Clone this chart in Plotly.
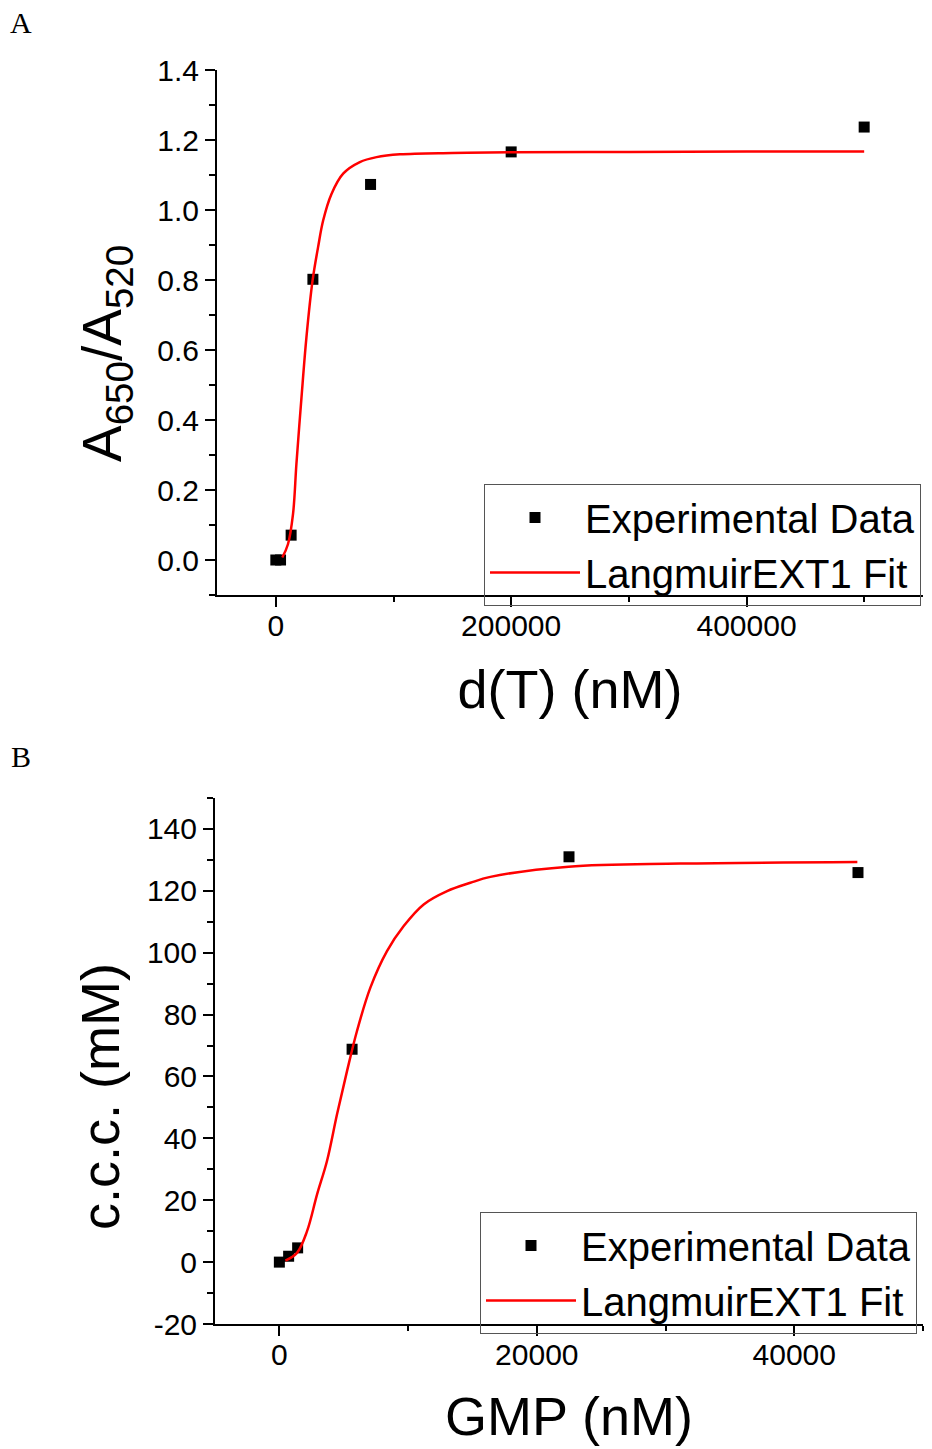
import plotly.graph_objects as go

# ---------- Panel A data ----------
a_x = [0, 4000, 13000, 31500, 80500, 200000, 500000]
a_y = [0.0, 0.0, 0.071, 0.802, 1.073, 1.166, 1.237]

a_fit_x = [5500, 10300, 14600, 17500, 21800, 26000, 31200, 35900, 40200, 47300,
           57200, 71400, 85600, 105500, 150000, 200000, 300000, 400000, 500000]
a_fit_y = [0.007, 0.045, 0.131, 0.275, 0.464, 0.636, 0.798, 0.894, 0.970, 1.046,
           1.104, 1.137, 1.151, 1.159, 1.163, 1.165, 1.166, 1.167, 1.167]

a_xtickvals = [0, 200000, 400000]
a_xticktext = ["0", "200000", "400000"]
a_ytickvals = [0.0, 0.2, 0.4, 0.6, 0.8, 1.0, 1.2, 1.4]
a_yticktext = ["0.0", "0.2", "0.4", "0.6", "0.8", "1.0", "1.2", "1.4"]

# ---------- Panel B data ----------
b_x = [0, 720, 1420, 5650, 22500, 44950]
b_y = [0.0, 1.9, 4.6, 68.8, 131.0, 125.9]

b_fit_x = [470, 1370, 2150, 2930, 3700, 4480, 5260, 6030, 7070, 8360, 9660,
           11210, 13030, 14840, 16390, 22470, 31150, 44900]
b_fit_y = [0.5, 3.0, 10.0, 21.9, 32.7, 47.8, 61.8, 74.7, 88.7, 100.5, 108.6,
           115.6, 119.9, 122.6, 124.5, 127.8, 128.8, 129.3]

b_xtickvals = [0, 20000, 40000]
b_xticktext = ["0", "20000", "40000"]
b_ytickvals = [-20, 0, 20, 40, 60, 80, 100, 120, 140]
b_yticktext = ["-20", "0", "20", "40", "60", "80", "100", "120", "140"]

W, H = 932, 1449
FONT = "Liberation Sans, Arial, sans-serif"
SERIF = "Liberation Serif, Times New Roman, serif"


def px_x(p):
    return p / W


def px_y(p):
    return 1 - p / H


fig = go.Figure()

# Panel A traces
fig.add_trace(go.Scatter(x=a_x, y=a_y, mode="markers", name="Experimental Data",
                         marker=dict(symbol="square", size=11, color="black"),
                         xaxis="x", yaxis="y", legend="legend"))
fig.add_trace(go.Scatter(x=a_fit_x, y=a_fit_y, mode="lines", name="LangmuirEXT1 Fit",
                         line=dict(color="#ff0000", width=2.5, shape="spline", smoothing=1.0),
                         xaxis="x", yaxis="y", legend="legend"))
# Panel B traces
fig.add_trace(go.Scatter(x=b_x, y=b_y, mode="markers", name="Experimental Data",
                         marker=dict(symbol="square", size=11, color="black"),
                         xaxis="x2", yaxis="y2", legend="legend2"))
fig.add_trace(go.Scatter(x=b_fit_x, y=b_fit_y, mode="lines", name="LangmuirEXT1 Fit",
                         line=dict(color="#ff0000", width=2.5, shape="spline", smoothing=1.0),
                         xaxis="x2", yaxis="y2", legend="legend2"))

axis_common = dict(showline=True, linecolor="black", linewidth=2, ticks="outside",
                   ticklen=10, tickwidth=2, tickcolor="black", showgrid=False,
                   zeroline=False, mirror=False, automargin=False,
                   tickfont=dict(family=FONT, size=30, color="black"))

xtitle_font = dict(family=FONT, size=54, color="black")


def minor(dt, ln):
    return dict(dtick=dt, tick0=0, ticks="outside", ticklen=ln, tickwidth=2,
                tickcolor="black", showgrid=False)


legend_common = dict(xanchor="left", yanchor="top",
                     bgcolor="rgba(255,255,255,0)", bordercolor="#555555", borderwidth=1,
                     font=dict(family=FONT, size=40, color="black"), itemwidth=90,
                     tracegroupgap=0)

fig.update_layout(
    width=W, height=H,
    margin=dict(l=0, r=0, t=0, b=0, autoexpand=False),
    paper_bgcolor="white", plot_bgcolor="white",
    font=dict(family=FONT, color="black"),
    xaxis=dict(domain=[px_x(217), px_x(923)], range=[-50000, 550000], anchor="y",
               tickmode="array", tickvals=a_xtickvals, ticktext=a_xticktext,
               ticklabelstandoff=-7, minor=minor(100000, 5),
               title=dict(text="d(T) (nM)", font=xtitle_font, standoff=29),
               **axis_common),
    yaxis=dict(domain=[px_y(595), px_y(70)], range=[-0.1, 1.4], anchor="x",
               tickmode="array", tickvals=a_ytickvals, ticktext=a_yticktext,
               minor=minor(0.1, 6), **axis_common),
    xaxis2=dict(domain=[px_x(215), px_x(923)], range=[-5000, 50000], anchor="y2",
                tickmode="array", tickvals=b_xtickvals, ticktext=b_xticktext,
                ticklabelstandoff=-7, minor=minor(10000, 5),
                title=dict(text="GMP (nM)", font=xtitle_font, standoff=27),
                **axis_common),
    yaxis2=dict(domain=[px_y(1324), px_y(798)], range=[-20, 150], anchor="x2",
                tickmode="array", tickvals=b_ytickvals, ticktext=b_yticktext,
                minor=minor(10, 6), **axis_common),
    legend=dict(x=px_x(484), y=px_y(484), **legend_common),
    legend2=dict(x=px_x(480), y=px_y(1212), **legend_common),
    showlegend=True,
)

annotations = [
    dict(text="A", x=px_x(21), y=px_y(22), font=dict(family=SERIF, size=30)),
    dict(text="B", x=px_x(21), y=px_y(756), font=dict(family=SERIF, size=30)),
    dict(text="A<sub>650</sub>/A<sub>520</sub>", x=px_x(106), y=px_y(354), textangle=-90,
         font=dict(family=FONT, size=55)),
    dict(text="c.c.c. (mM)", x=px_x(100), y=px_y(1097), textangle=-90,
         font=dict(family=FONT, size=54)),
]
for a in annotations:
    a.update(xref="paper", yref="paper", showarrow=False, xanchor="center", yanchor="middle")
fig.update_layout(annotations=annotations)

fig.write_html("out.html")
